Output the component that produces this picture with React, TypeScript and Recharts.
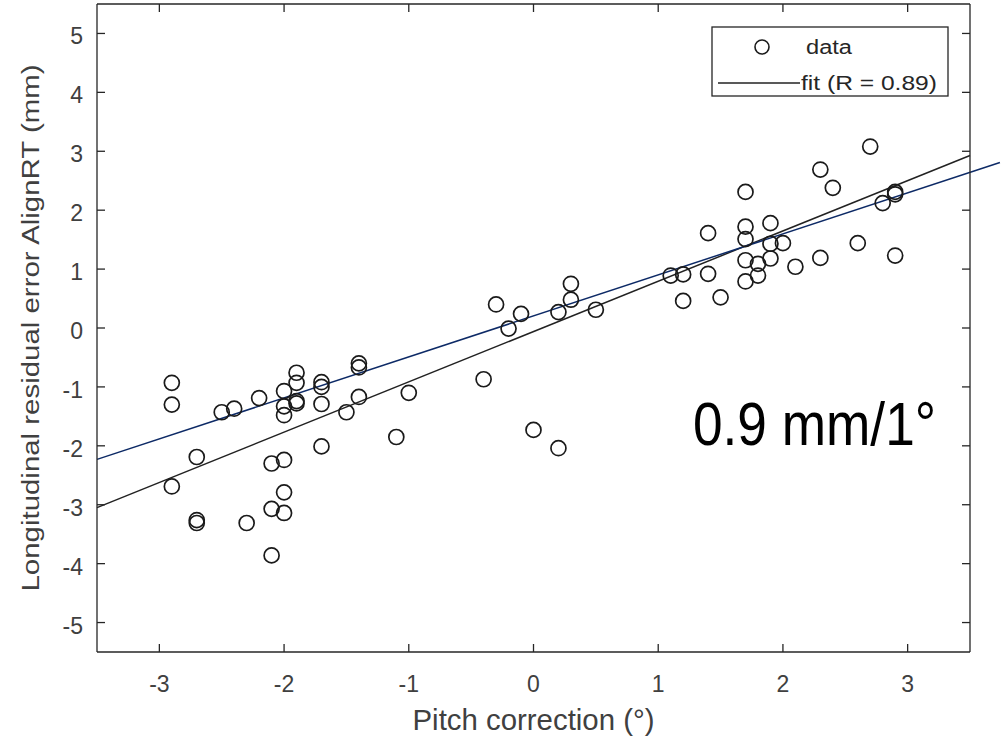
import React from 'react';
import { ScatterChart, Scatter, XAxis, YAxis, ReferenceLine, Customized, Label } from 'recharts';

// pitch correction (deg) and longitudinal residual error (mm)
const pitch = [
  -2.9, -2.9, -2.9, -2.7, -2.7, -2.7, -2.5, -2.4, -2.3, -2.2,
  -2.1, -2.1, -2.1, -2.0, -2.0, -2.0, -2.0, -2.0, -2.0, -1.9,
  -1.9, -1.9, -1.9, -1.7, -1.7, -1.7, -1.7, -1.5, -1.4, -1.4,
  -1.4, -1.1, -1.0, -0.4, -0.3, -0.2, -0.1, 0.0, 0.2, 0.2,
  0.3, 0.3, 0.5, 1.1, 1.2, 1.2, 1.4, 1.4, 1.5, 1.7,
  1.7, 1.7, 1.7, 1.7, 1.8, 1.8, 1.9, 1.9, 1.9, 2.0,
  2.1, 2.3, 2.3, 2.4, 2.6, 2.7, 2.8, 2.9, 2.9, 2.9,
];
const residual = [
  -0.93, -1.3, -2.69, -2.19, -3.26, -3.31, -1.43, -1.37, -3.31, -1.19,
  -2.3, -3.07, -3.86, -1.07, -1.33, -1.48, -2.24, -2.79, -3.14, -0.76,
  -0.93, -1.24, -1.28, -0.92, -1.0, -1.29, -2.01, -1.43, -0.6, -0.67,
  -1.17, -1.85, -1.1, -0.87, 0.4, -0.01, 0.24, -1.73, 0.27, -2.04,
  0.75, 0.48, 0.31, 0.89, 0.91, 0.46, 1.61, 0.92, 0.52, 2.31,
  1.72, 1.51, 1.15, 0.79, 1.09, 0.89, 1.78, 1.43, 1.18, 1.44,
  1.04, 2.69, 1.19, 2.38, 1.44, 3.08, 2.12, 2.31, 2.27, 1.23,
];

const xTicks = [-3, -2, -1, 0, 1, 2, 3];
const yTicks = [-5, -4, -3, -2, -1, 0, 1, 2, 3, 4, 5];

// black fit line and the hand-drawn blue line
const fitSlope = 0.854;
const fitIntercept = -0.06;
const fitRange = [-3.5, 3.5];
const blueSlope = 0.696;
const blueIntercept = 0.206;
const blueRange = [-3.5, 3.74];

const points = pitch.map((x, i) => ({ x, y: residual[i] }));
const fitSegment = fitRange.map((x) => ({ x, y: fitIntercept + fitSlope * x }));
const blueSegment = blueRange.map((x) => ({ x, y: blueIntercept + blueSlope * x }));

const AXIS = '#262626';
const TEXT = '#404040';
const FONT = '"Liberation Sans", Arial, sans-serif';

const BottomTick = (props: any) => {
  const { x, y, payload } = props;
  return (
    <g>
      <line x1={x} y1={y} x2={x} y2={y - 8} stroke={AXIS} strokeWidth={1.3} />
      <text x={x} y={y + 40} textAnchor="middle" fontSize={23} fill={TEXT} fontFamily={FONT}>
        {payload.value}
      </text>
    </g>
  );
};

const TopTick = (props: any) => {
  const { x, y } = props;
  return <line x1={x} y1={y} x2={x} y2={y + 8} stroke={AXIS} strokeWidth={1.3} />;
};

const LeftTick = (props: any) => {
  const { x, y, payload } = props;
  return (
    <g>
      <line x1={x} y1={y} x2={x + 8} y2={y} stroke={AXIS} strokeWidth={1.3} />
      <text x={x - 14} y={y + 11} textAnchor="end" fontSize={23} fill={TEXT} fontFamily={FONT}>
        {payload.value}
      </text>
    </g>
  );
};

const RightTick = (props: any) => {
  const { x, y } = props;
  return <line x1={x} y1={y} x2={x - 8} y2={y} stroke={AXIS} strokeWidth={1.3} />;
};

const Ring = (props: any) => (
  <circle cx={props.cx} cy={props.cy} r={7.5} fill="none" stroke="#1a1a1a" strokeWidth={1.7} />
);

const NoMark = () => <g />;

const XTitle = (props: any) => {
  const { x, y, width } = props.viewBox;
  return (
    <text x={x + width / 2} y={y + 78} textAnchor="middle" fontSize={30} fill={TEXT} fontFamily={FONT}
      textLength={242} lengthAdjust="spacingAndGlyphs">
      Pitch correction (°)
    </text>
  );
};

const YTitle = (props: any) => {
  const { y, height } = props.viewBox;
  const cy = y + height / 2;
  return (
    <text x={38.5} y={cy} transform={`rotate(-90, 38.5, ${cy})`} textAnchor="middle" fontSize={23}
      fill={TEXT} fontFamily={FONT} textLength={527} lengthAdjust="spacingAndGlyphs">
      Longitudinal residual error AlignRT (mm)
    </text>
  );
};

const Overlay = () => (
  <g fontFamily={FONT}>
    <rect x={712} y={27} width={236} height={69} fill="#fff" stroke={AXIS} strokeWidth={1.3} />
    <circle cx={762} cy={47} r={7} fill="none" stroke="#1a1a1a" strokeWidth={1.6} />
    <text x={806} y={54} fontSize={20} fill={AXIS} textLength={46} lengthAdjust="spacingAndGlyphs">data</text>
    <line x1={718} y1={83} x2={800} y2={83} stroke="#222" strokeWidth={1.5} />
    <text x={801} y={90} fontSize={21} fill={AXIS} textLength={136} lengthAdjust="spacingAndGlyphs">
      fit (R = 0.89)
    </text>
    <text x={693} y={445} fontSize={62} fill="#000" textLength={243} lengthAdjust="spacingAndGlyphs">
      0.9 mm/1°
    </text>
  </g>
);

export default function App() {
  return (
    <div style={{ position: 'absolute', left: 0, top: 0, background: '#fff' }}>
      <ScatterChart width={1005} height={739} margin={{ top: 3, right: 34, left: 0, bottom: 0 }}>
        <XAxis xAxisId="x" dataKey="x" type="number" domain={[-3.5, 3.5]} ticks={xTicks} interval={0}
          height={87} tickSize={0} tickMargin={0} tick={<BottomTick />}
          axisLine={{ stroke: AXIS, strokeWidth: 1.3 }}>
          <Label content={<XTitle />} />
        </XAxis>
        <XAxis xAxisId="xt" dataKey="x" orientation="top" type="number" domain={[-3.5, 3.5]} ticks={xTicks}
          interval={0} height={1} tickSize={0} tickMargin={0} tick={<TopTick />}
          axisLine={{ stroke: AXIS, strokeWidth: 1.3 }} />
        <YAxis yAxisId="y" dataKey="y" type="number" domain={[-5.5, 5.5]} ticks={yTicks} interval={0}
          width={97} tickSize={0} tickMargin={0} tick={<LeftTick />}
          axisLine={{ stroke: AXIS, strokeWidth: 1.3 }}>
          <Label content={<YTitle />} />
        </YAxis>
        <YAxis yAxisId="yr" dataKey="y" orientation="right" type="number" domain={[-5.5, 5.5]} ticks={yTicks}
          interval={0} width={1} tickSize={0} tickMargin={0} tick={<RightTick />}
          axisLine={{ stroke: AXIS, strokeWidth: 1.3 }} />
        <Scatter data={points} xAxisId="xt" yAxisId="yr" shape={<NoMark />} isAnimationActive={false} />
        <Scatter data={points} xAxisId="x" yAxisId="y" shape={<Ring />} isAnimationActive={false} />
        <ReferenceLine segment={fitSegment} xAxisId="x" yAxisId="y" stroke="#222" strokeWidth={1.5}
          ifOverflow="visible" />
        <ReferenceLine segment={blueSegment} xAxisId="x" yAxisId="y" stroke="#0d2a66" strokeWidth={1.5}
          ifOverflow="visible" />
        <Customized component={Overlay} />
      </ScatterChart>
    </div>
  );
}
